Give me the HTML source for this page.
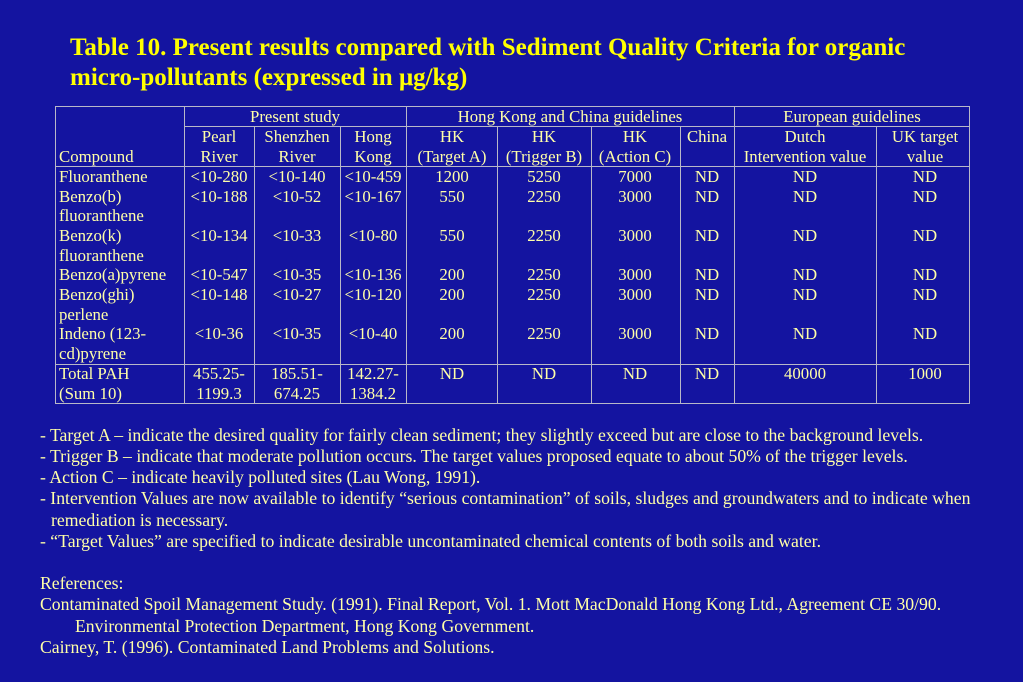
<!DOCTYPE html>
<html><head><meta charset="utf-8"><style>
body{margin:0;width:1023px;height:682px;background:#1414a0;overflow:hidden}
svg{display:block}
text{font-family:"Liberation Serif",serif;fill:#ffffa8;font-size:16.8px}
.t{font-size:25px;font-weight:bold;fill:#ffff00}
.c{text-anchor:middle}
.n{font-size:17.7px}
</style></head><body>
<svg width="1023" height="682" xmlns="http://www.w3.org/2000/svg">
<text class="t" x="70" y="55">Table 10. Present results compared with Sediment Quality Criteria for organic</text>
<text class="t" x="70" y="85">micro-pollutants (expressed in μg/kg)</text>
<g stroke="#b8b8c8" stroke-width="1" fill="none">
<rect x="55.5" y="106.5" width="914" height="297"/>
<line x1="184.5" y1="126.5" x2="969.5" y2="126.5"/>
<line x1="55.5" y1="166.5" x2="969.5" y2="166.5"/>
<line x1="55.5" y1="364.5" x2="969.5" y2="364.5"/>
<line x1="184.5" y1="106" x2="184.5" y2="403"/>
<line x1="406.5" y1="106" x2="406.5" y2="403"/>
<line x1="734.5" y1="106" x2="734.5" y2="403"/>
<line x1="254.5" y1="126" x2="254.5" y2="403"/>
<line x1="340.5" y1="126" x2="340.5" y2="403"/>
<line x1="497.5" y1="126" x2="497.5" y2="403"/>
<line x1="591.5" y1="126" x2="591.5" y2="403"/>
<line x1="680.5" y1="126" x2="680.5" y2="403"/>
<line x1="876.5" y1="126" x2="876.5" y2="403"/>
</g>
<g>
<text class="c" x="295" y="122">Present study</text>
<text class="c" x="570" y="122">Hong Kong and China guidelines</text>
<text class="c" x="852" y="122">European guidelines</text>
</g>
<g>
<text x="59" y="162">Compound</text>
<text class="c" x="219" y="142">Pearl</text><text class="c" x="219" y="162">River</text>
<text class="c" x="297" y="142">Shenzhen</text><text class="c" x="297" y="162">River</text>
<text class="c" x="373" y="142">Hong</text><text class="c" x="373" y="162">Kong</text>
<text class="c" x="452" y="142">HK</text><text class="c" x="452" y="162">(Target A)</text>
<text class="c" x="544" y="142">HK</text><text class="c" x="544" y="162">(Trigger B)</text>
<text class="c" x="635" y="142">HK</text><text class="c" x="635" y="162">(Action C)</text>
<text class="c" x="707" y="142">China</text>
<text class="c" x="805" y="142">Dutch</text><text class="c" x="805" y="162">Intervention value</text>
<text class="c" x="925" y="142">UK target</text><text class="c" x="925" y="162">value</text>
</g>
<g>
<text x="59" y="182">Fluoranthene</text>
<text x="59" y="202">Benzo(b)</text><text x="59" y="221">fluoranthene</text>
<text x="59" y="241">Benzo(k)</text><text x="59" y="261">fluoranthene</text>
<text x="59" y="280">Benzo(a)pyrene</text>
<text x="59" y="300">Benzo(ghi)</text><text x="59" y="320">perlene</text>
<text x="59" y="339">Indeno (123-</text><text x="59" y="359">cd)pyrene</text>
<text x="59" y="379">Total PAH</text><text x="59" y="399">(Sum 10)</text>
</g>
<g>
<text class="c" x="219" y="182">&lt;10-280</text><text class="c" x="297" y="182">&lt;10-140</text><text class="c" x="373" y="182">&lt;10-459</text><text class="c" x="452" y="182">1200</text><text class="c" x="544" y="182">5250</text><text class="c" x="635" y="182">7000</text><text class="c" x="707" y="182">ND</text><text class="c" x="805" y="182">ND</text><text class="c" x="925" y="182">ND</text>
<text class="c" x="219" y="202">&lt;10-188</text><text class="c" x="297" y="202">&lt;10-52</text><text class="c" x="373" y="202">&lt;10-167</text><text class="c" x="452" y="202">550</text><text class="c" x="544" y="202">2250</text><text class="c" x="635" y="202">3000</text><text class="c" x="707" y="202">ND</text><text class="c" x="805" y="202">ND</text><text class="c" x="925" y="202">ND</text>
<text class="c" x="219" y="241">&lt;10-134</text><text class="c" x="297" y="241">&lt;10-33</text><text class="c" x="373" y="241">&lt;10-80</text><text class="c" x="452" y="241">550</text><text class="c" x="544" y="241">2250</text><text class="c" x="635" y="241">3000</text><text class="c" x="707" y="241">ND</text><text class="c" x="805" y="241">ND</text><text class="c" x="925" y="241">ND</text>
<text class="c" x="219" y="280">&lt;10-547</text><text class="c" x="297" y="280">&lt;10-35</text><text class="c" x="373" y="280">&lt;10-136</text><text class="c" x="452" y="280">200</text><text class="c" x="544" y="280">2250</text><text class="c" x="635" y="280">3000</text><text class="c" x="707" y="280">ND</text><text class="c" x="805" y="280">ND</text><text class="c" x="925" y="280">ND</text>
<text class="c" x="219" y="300">&lt;10-148</text><text class="c" x="297" y="300">&lt;10-27</text><text class="c" x="373" y="300">&lt;10-120</text><text class="c" x="452" y="300">200</text><text class="c" x="544" y="300">2250</text><text class="c" x="635" y="300">3000</text><text class="c" x="707" y="300">ND</text><text class="c" x="805" y="300">ND</text><text class="c" x="925" y="300">ND</text>
<text class="c" x="219" y="339">&lt;10-36</text><text class="c" x="297" y="339">&lt;10-35</text><text class="c" x="373" y="339">&lt;10-40</text><text class="c" x="452" y="339">200</text><text class="c" x="544" y="339">2250</text><text class="c" x="635" y="339">3000</text><text class="c" x="707" y="339">ND</text><text class="c" x="805" y="339">ND</text><text class="c" x="925" y="339">ND</text>
<text class="c" x="219" y="379">455.25-</text><text class="c" x="219" y="399">1199.3</text>
<text class="c" x="297" y="379">185.51-</text><text class="c" x="297" y="399">674.25</text>
<text class="c" x="373" y="379">142.27-</text><text class="c" x="373" y="399">1384.2</text>
<text class="c" x="452" y="379">ND</text><text class="c" x="544" y="379">ND</text><text class="c" x="635" y="379">ND</text><text class="c" x="707" y="379">ND</text><text class="c" x="805" y="379">40000</text><text class="c" x="925" y="379">1000</text>
</g>
<g>
<text class="n" x="40" y="441">- Target A –  indicate the desired quality for fairly clean sediment; they slightly exceed but are close to the background levels.</text>
<text class="n" x="40" y="462">- Trigger B – indicate that moderate pollution occurs.  The target values proposed equate to about 50% of the trigger levels.</text>
<text class="n" x="40" y="483">- Action C – indicate heavily polluted sites (Lau Wong, 1991).</text>
<text class="n" x="40" y="504">- Intervention Values are now available to identify “serious contamination” of soils, sludges and groundwaters and to indicate when</text>
<text class="n" x="51" y="526">remediation is necessary.</text>
<text class="n" x="40" y="547">- “Target Values” are specified to indicate desirable uncontaminated chemical contents of both soils and water.</text>
<text class="n" x="40" y="589">References:</text>
<text class="n" x="40" y="610">Contaminated Spoil Management Study. (1991). Final Report, Vol. 1. Mott MacDonald Hong Kong Ltd., Agreement CE 30/90.</text>
<text class="n" x="75" y="632">Environmental Protection Department, Hong Kong Government.</text>
<text class="n" x="40" y="653">Cairney, T. (1996). Contaminated Land Problems and Solutions.</text>
</g>
</svg>
</body></html>
